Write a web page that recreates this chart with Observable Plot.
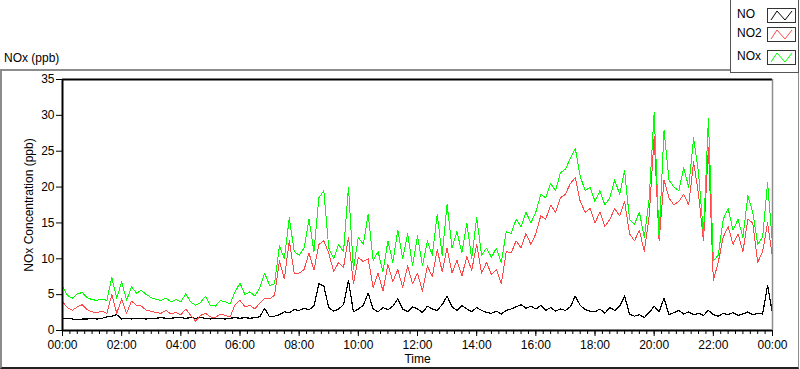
<!DOCTYPE html>
<html><head><meta charset="utf-8">
<script src="https://cdn.jsdelivr.net/npm/d3@7"></script>
<script src="https://cdn.jsdelivr.net/npm/@observablehq/plot@0.6"></script>
<style>
body{margin:0;background:#fff;font-family:"Liberation Sans",Arial,sans-serif;color:#000;}
#wrap{position:relative;width:800px;height:369px;overflow:hidden;background:#fff;}
#frame{position:absolute;left:0;top:69px;width:799px;height:300px;box-sizing:border-box;border-top:2px solid #8c8c8c;border-left:2px solid #8c8c8c;border-right:1px solid #8c8c8c;border-bottom:2px solid #222;}
#ptitle{position:absolute;left:4px;top:51px;font-size:12px;}
#chart{position:absolute;left:0;top:0;}
#legend{position:absolute;left:730px;top:-1px;width:69px;height:74px;box-sizing:border-box;border:1px solid #555;background:#fff;}
.li{position:absolute;left:6px;font-size:12px;}
.sw{position:absolute;left:36px;}
</style>
</head><body>
<div id="wrap">
  <div id="frame"></div>
  <div id="ptitle">NOx (ppb)</div>
  <div id="chart"></div>
  <div id="legend"></div>
</div>
<script>
// 10-minute samples from 00:00 to 24:00
const NO = [
 1.6,1.7,1.6,1.5,1.6,1.6,
 1.7,1.6,1.7,1.9,2.0,2.2,
 1.6,1.7,1.6,1.7,1.7,1.6,
 1.7,1.7,1.8,1.7,1.7,1.8,
 1.8,1.7,1.8,1.7,1.8,1.7,
 1.6,1.7,1.7,1.6,1.7,1.8,
 1.7,1.8,1.7,1.8,1.9,3.1,
 1.9,2.0,2.2,2.6,2.5,2.9,
 2.8,3.1,2.9,3.4,6.5,6.2,
 3.2,2.7,3.0,3.6,7.0,2.6,
 3.0,3.5,5.2,3.0,2.6,3.2,
 2.9,3.4,4.4,3.0,2.6,3.3,
 3.0,2.5,3.4,3.0,2.8,3.6,
 4.8,3.3,2.8,3.5,3.0,2.6,
 3.2,2.8,2.5,2.4,2.7,2.3,
 2.8,3.0,3.3,3.6,3.1,3.4,
 3.0,3.5,2.8,3.2,2.7,3.0,
 2.8,3.3,4.8,3.5,2.9,2.7,
 2.6,3.0,2.4,3.2,2.8,3.4,
 4.8,2.3,2.0,2.2,1.8,2.5,
 3.4,2.6,4.5,2.2,2.5,2.8,
 2.3,2.6,2.2,2.4,2.1,2.8,
 2.2,2.0,2.4,2.2,2.5,2.1,
 2.3,2.6,2.2,2.4,2.3,6.3,
 2.4];
const NO2 = [
 4.0,3.2,2.8,3.3,3.6,2.9,
 2.6,2.5,2.7,2.4,5.0,2.4,
 4.4,2.4,4.1,3.5,3.4,2.8,
 2.7,2.5,2.4,2.8,2.3,2.5,
 2.2,3.0,2.1,1.3,2.1,2.4,
 1.9,1.8,2.3,2.1,1.9,3.6,
 4.2,3.3,3.5,3.0,3.8,4.5,
 4.4,4.9,9.7,7.2,12.5,8.0,
 8.0,8.5,10.8,8.4,12.0,12.5,
 10.8,8.2,9.5,8.8,13.0,6.5,
 10.2,9.6,10.0,6.0,8.0,5.5,
 9.2,6.8,8.5,6.0,9.0,6.5,
 8.0,5.5,9.0,7.5,11.3,8.2,
 11.5,8.0,9.8,7.6,10.3,8.4,
 12.0,8.0,9.5,7.8,8.5,6.5,
 11.0,10.8,12.5,11.5,13.5,12.0,
 13.5,16.0,15.5,17.5,16.5,18.5,
 19.0,20.5,21.3,18.0,16.5,17.0,
 15.0,16.5,14.5,15.5,17.0,16.0,
 18.0,13.5,12.5,14.0,11.0,16.0,
 27.0,12.5,21.0,18.5,17.5,18.0,
 19.0,17.5,23.5,19.0,12.5,25.5,
 7.0,9.5,13.0,14.5,12.0,13.5,
 11.0,15.5,15.0,9.5,11.0,15.0,
 10.2];
const NOx = [
 6.2,4.9,4.5,5.1,5.3,4.6,
 4.3,4.2,4.4,4.2,7.4,4.5,
 6.8,4.2,6.1,5.2,5.6,5.0,
 4.6,4.3,4.2,4.5,4.0,4.3,
 4.0,5.1,4.0,3.5,3.9,4.8,
 3.5,3.4,4.2,4.0,3.7,5.4,
 6.6,5.0,5.4,4.8,5.9,8.0,
 6.3,6.5,11.8,10.0,15.7,11.0,
 10.5,11.5,15.5,11.0,18.5,19.5,
 11.5,10.0,12.0,11.0,20.0,8.5,
 13.0,12.0,16.2,9.8,11.0,8.2,
 12.5,9.5,14.0,10.0,13.5,9.0,
 13.2,9.0,12.5,10.5,16.2,10.5,
 17.6,11.5,13.8,10.8,15.0,10.0,
 15.8,10.5,11.5,10.2,11.5,9.5,
 13.8,13.5,15.5,14.5,16.5,15.0,
 16.5,19.0,18.5,20.5,19.5,22.0,
 22.5,24.0,25.4,21.5,19.5,20.0,
 18.0,19.5,17.5,18.5,21.0,19.0,
 22.3,15.5,14.8,16.5,13.0,18.5,
 30.4,13.0,27.9,21.0,20.0,19.5,
 22.7,20.0,26.9,22.0,13.4,29.5,
 9.7,10.5,15.5,17.0,14.0,15.5,
 13.0,18.8,16.5,12.0,13.0,20.6,
 12.0];
const yTicks = [0,5,10,15,20,25,30,35];
const xTickHours = [0,2,4,6,8,10,12,14,16,18,20,22,24];
const seriesNames = ["NO","NO2","NOx"];
const seriesColors = ["#000000","#ff4848","#00ff00"];

const T = m => new Date(Date.UTC(2000,0,1,0,m));
const times = NO.map((_, i) => T(i*10));
const rows = times.map((t, i) => ({time: t, NO: NO[i], NO2: NO2[i], NOx: NOx[i]}));
const majorTicks = xTickHours.map(h => T(h*60));
const minorTicks = d3.range(0, 24*60+1, 15).map(T);
const t0 = T(0), t1 = T(24*60);

const plot = Plot.plot({
  width: 800, height: 369,
  marginLeft: 62, marginRight: 28, marginTop: 79, marginBottom: 39,
  style: {fontFamily: '"Liberation Sans", Arial, sans-serif', fontSize: "11px", color: "#000", background: "transparent", overflow: "visible"},
  x: {type: "utc", domain: [t0, t1]},
  y: {domain: [0, 35]},
  marks: [
    Plot.line(rows, {x: "time", y: "NO", stroke: seriesColors[0], strokeWidth: 1.2, shapeRendering: "crispEdges"}),
    Plot.line(rows, {x: "time", y: "NO2", stroke: seriesColors[1], strokeWidth: 1, shapeRendering: "crispEdges"}),
    Plot.line(rows, {x: "time", y: "NOx", stroke: seriesColors[2], strokeWidth: 1, shapeRendering: "crispEdges"}),
    Plot.ruleY([35], {stroke: "#000", strokeWidth: 2}),
    Plot.ruleY([0], {stroke: "#000", strokeWidth: 2}),
    Plot.ruleX([t0], {stroke: "#000", strokeWidth: 2}),
    Plot.ruleX([t1], {stroke: "#8c8c8c", strokeWidth: 1.5}),
    Plot.axisY({ticks: yTicks, tickSize: 6, tickPadding: 2, label: "NOx Concentration (ppb)", labelAnchor: "center", labelArrow: "none", labelOffset: 38, fontSize: 12}),
    Plot.axisX({ticks: minorTicks, tickSize: 4, tickFormat: () => "", label: null}),
    Plot.axisX({ticks: majorTicks, tickSize: 6, tickPadding: 4, tickFormat: d3.utcFormat("%H:%M"), label: "Time", labelAnchor: "center", labelArrow: "none", labelOffset: 32, fontSize: 12})
  ]
});
document.getElementById("chart").append(plot);

// legend
const leg = document.getElementById("legend");
const tops = [9, 28, 51];
seriesNames.forEach((n, i) => {
  const lab = document.createElement("div");
  lab.className = "li"; lab.textContent = n;
  lab.style.top = (tops[i] - 2) + "px";
  leg.append(lab);
  const ns = "http://www.w3.org/2000/svg";
  const s = document.createElementNS(ns, "svg");
  s.setAttribute("class", "sw"); s.setAttribute("width", 29); s.setAttribute("height", 15);
  s.style.top = (tops[i] - 1) + "px";
  const r = document.createElementNS(ns, "rect");
  r.setAttribute("x", 0.5); r.setAttribute("y", 0.5); r.setAttribute("width", 28); r.setAttribute("height", 14);
  r.setAttribute("fill", "#fff"); r.setAttribute("stroke", "#333");
  const p = document.createElementNS(ns, "polyline");
  p.setAttribute("points", "4,12 10,3 18,12 25,3");
  p.setAttribute("fill", "none"); p.setAttribute("stroke", seriesColors[i]); p.setAttribute("stroke-width", 1);
  s.append(r, p); leg.append(s);
});
</script>
</body></html>
